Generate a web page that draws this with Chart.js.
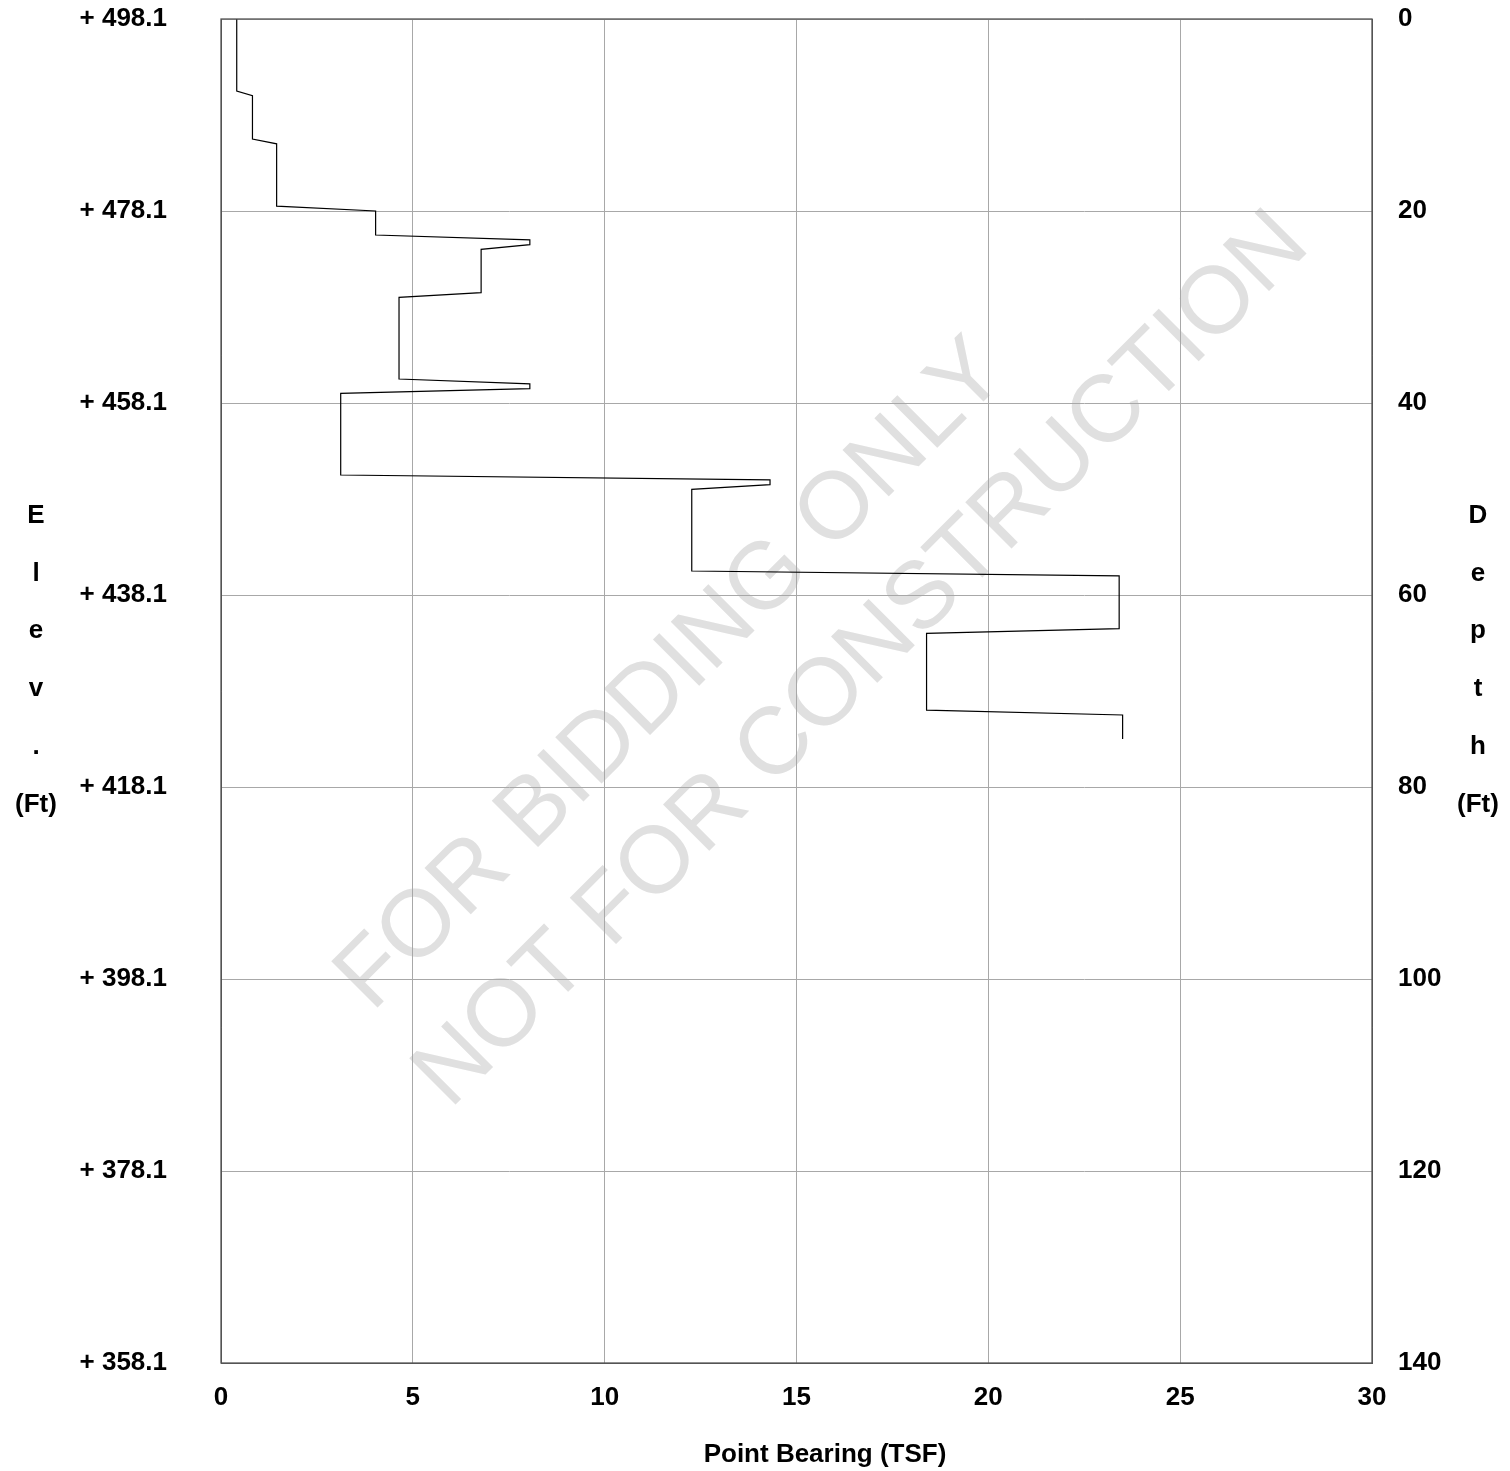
<!DOCTYPE html>
<html>
<head>
<meta charset="utf-8">
<script src="https://cdn.jsdelivr.net/npm/chart.js@4.4.1/dist/chart.umd.min.js"></script>
<style>
  html,body{margin:0;padding:0;background:#fff;}
  #cpt{display:block;}
</style>
</head>
<body>
<canvas id="cpt" width="1510" height="1471"></canvas>
<script>
// CPT sounding: point bearing vs depth, with elevation on the left axis
const depthFt   = [0,7.5,8,12.5,13,19.5,20,22.5,23,23.5,24,28.5,29,37.5,38,38.5,39,47.5,48,48.5,49,57.5,58,63.5,64,72,72.5,75];
const bearingTsf = [0.41,0.41,0.82,0.82,1.45,1.45,4.03,4.03,8.05,8.05,6.78,6.78,4.64,4.64,8.05,8.05,3.12,3.12,14.31,14.31,12.27,12.27,23.41,23.41,18.39,18.39,23.5,23.5];

const depthTicks = [0,20,40,60,80,100,120,140];
const elevLabels = ['+ 498.1','+ 478.1','+ 458.1','+ 438.1','+ 418.1','+ 398.1','+ 378.1','+ 358.1'];
const bearingTicks = [0,5,10,15,20,25,30];

const leftTitle  = ['E','l','e','v','.','(Ft)'];
const rightTitle = ['D','e','p','t','h','(Ft)'];
const xTitle = 'Point Bearing (TSF)';
const stampLines = ['FOR BIDDING ONLY','NOT FOR CONSTRUCTION'];

const FONT = '"Liberation Sans", Arial, Helvetica, sans-serif';
const tickFont = {family:FONT, size:26, weight:'bold'};

// light "not for construction" stamp, under the grid
const stamp = {
  id:'stamp',
  beforeDraw(chart){
    const c=chart.ctx;
    c.save();
    c.fillStyle='#e0e0e0';
    c.font='95px '+FONT;
    c.textBaseline='alphabetic';
    c.textAlign='left';
    [[372,1013],[450,1110]].forEach((p,i)=>{
      c.save();
      c.translate(p[0],p[1]);
      c.rotate(-Math.PI/4);
      c.fillText(stampLines[i],0,0);
      c.restore();
    });
    c.restore();
  }
};

// frame, stacked side titles and bottom title
const frame = {
  id:'frame',
  afterDraw(chart){
    const c=chart.ctx, a=chart.chartArea;
    c.save();
    c.strokeStyle='#555'; c.lineWidth=1.3;
    c.strokeRect(a.left,a.top,a.right-a.left,a.bottom-a.top);
    c.fillStyle='#000';
    c.font='bold 26px '+FONT;
    c.textAlign='center'; c.textBaseline='alphabetic';
    leftTitle.forEach((t,i)=>c.fillText(t,36,523+57.7*i));
    rightTitle.forEach((t,i)=>c.fillText(t,1478,523+57.7*i));
    c.fillText(xTitle,825,1462);
    c.restore();
  }
};

function noPad(s){ s.paddingTop=0; s.paddingBottom=0; s.paddingLeft=0; s.paddingRight=0; }

const pts = depthFt.map((d,i)=>({x:bearingTsf[i], y:d}));

new Chart(document.getElementById('cpt').getContext('2d'),{
  type:'scatter',
  data:{datasets:[{
    data:pts, showLine:true, borderColor:'#000', borderWidth:1.2,
    pointRadius:0, fill:false, tension:0, yAxisID:'y'
  }]},
  options:{
    responsive:false, animation:false, devicePixelRatio:1,
    layout:{padding:{top:19,left:0,right:0,bottom:0}},
    plugins:{legend:{display:false}, tooltip:{enabled:false}},
    scales:{
      x:{type:'linear', min:0, max:30,
         afterBuildTicks(s){ s.ticks=bearingTicks.map(v=>({value:v})); },
         ticks:{font:tickFont, color:'#000', padding:19, maxRotation:0},
         grid:{color:'#a8a8a8', lineWidth:1, drawTicks:false},
         border:{color:'#555'},
         afterFit(s){ s.height=108; noPad(s); }},
      y:{type:'linear', position:'left', min:0, max:140, reverse:true,
         afterBuildTicks(s){ s.ticks=depthTicks.map(v=>({value:v})); },
         ticks:{font:tickFont, color:'#000', padding:54, callback:(v,i)=>elevLabels[i]},
         grid:{color:'#a8a8a8', lineWidth:1, drawTicks:false},
         border:{color:'#555'},
         afterFit(s){ s.width=221; noPad(s); }},
      y2:{type:'linear', position:'right', min:0, max:140, reverse:true,
         afterBuildTicks(s){ s.ticks=depthTicks.map(v=>({value:v})); },
         ticks:{font:tickFont, color:'#000', padding:26, callback:(v)=>String(v)},
         grid:{display:false, drawTicks:false},
         border:{color:'#555'},
         afterFit(s){ s.width=138; noPad(s); }}
    }
  },
  plugins:[stamp, frame]
});
</script>
</body>
</html>
